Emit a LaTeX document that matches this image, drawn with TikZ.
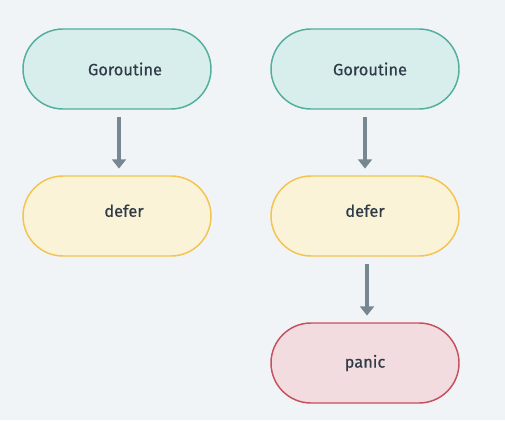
\documentclass[tikz,border=0pt]{standalone}
\usepackage{fontspec}
\setmainfont{Fira Sans}[BoldFont={Fira Sans}, BoldFeatures={FakeBold=0.5}]
\usetikzlibrary{arrows.meta}

\definecolor{bgcol}{HTML}{F0F4F7}
\definecolor{tealline}{HTML}{52AE9F}
\definecolor{tealfill}{HTML}{D8EEEC}
\definecolor{yelline}{HTML}{F3C44F}
\definecolor{yelfill}{HTML}{FBF3D8}
\definecolor{redline}{HTML}{C5505E}
\definecolor{redfill}{HTML}{F3DCE0}
\definecolor{arrcol}{HTML}{778792}
\definecolor{txtcol}{HTML}{2F3B47}

\tikzset{
    pill/.style={minimum width=141pt, minimum height=60pt, rounded corners=30pt,
        line width=1.1pt, text=txtcol, font=\fontsize{12.3}{14}\selectfont\bfseries},
    gorobox/.style={pill, draw=tealline, fill=tealfill},
    deferbox/.style={pill, draw=yelline, fill=yelfill},
    panicbox/.style={pill, draw=redline, fill=redfill},
    flow/.style={draw=arrcol, line width=3pt, shorten <=5.5pt, shorten >=5pt,
        -{Triangle[width=10.5pt,length=7pt]}}
}

\begin{document}
\begin{tikzpicture}[x=0.75pt, y=-0.75pt]
    \fill[bgcol] (0, 0) rectangle (505, 420);
    \useasboundingbox (0, 0) rectangle (505, 420);
    \node[gorobox] (goroA) at (117, 69) {\hspace*{12pt}Goroutine};
    \node[deferbox] (deferA) at (117, 216) {\hspace*{10.5pt}\raisebox{8pt}{defer}};
    \node[gorobox] (goroB) at (365, 69) {\hspace*{7.5pt}Goroutine};
    \node[deferbox] (deferB) at (365, 216) {\raisebox{8pt}{defer}};
    \node[panicbox] (panicB) at (365, 363) {panic};
    \draw[flow] ([xshift=1.5pt]goroA.south) -- ([xshift=1.5pt]deferA.north);
    \draw[flow] (goroB.south) -- (deferB.north);
    \draw[flow] ([xshift=1.5pt]deferB.south) -- ([xshift=1.5pt]panicB.north);
\end{tikzpicture}
\end{document}
